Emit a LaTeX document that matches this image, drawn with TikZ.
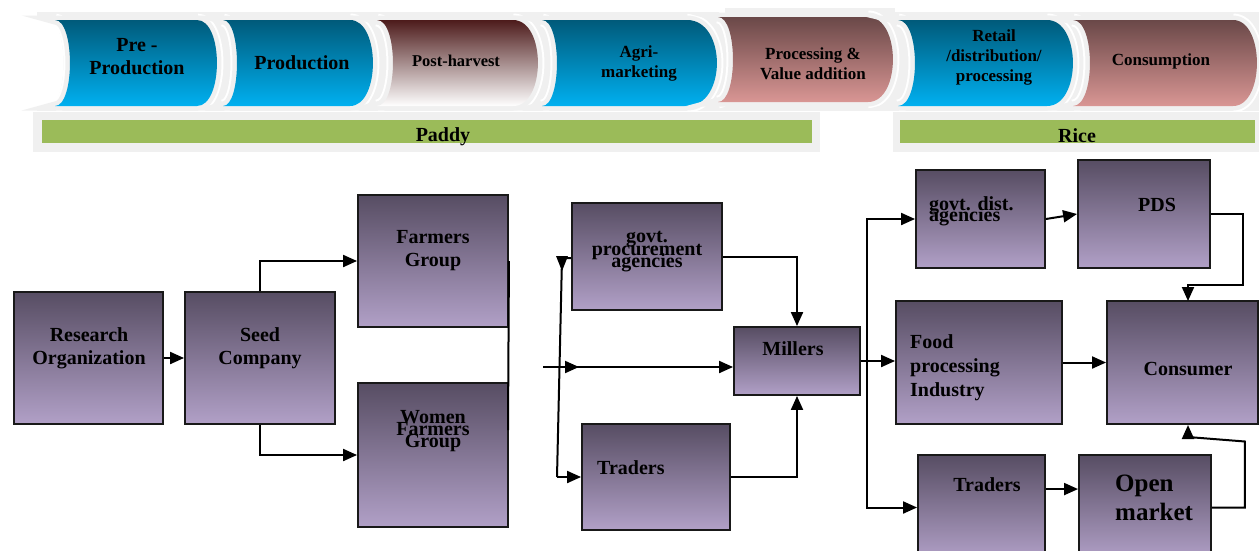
\documentclass[tikz,border=0pt]{standalone}
\usepackage{fontspec}
\setmainfont{Liberation Serif}
\usetikzlibrary{arrows.meta,calc}
\definecolor{boxtop}{HTML}{574D63}
\definecolor{boxbot}{HTML}{B1A0C7}
\definecolor{bluetop}{HTML}{005A7A}
\definecolor{bluebot}{HTML}{00B0F0}
\definecolor{martop}{HTML}{4D1B1B}
\definecolor{pinktop}{HTML}{6A4848}
\definecolor{pinkbot}{HTML}{D99694}
\definecolor{barg}{HTML}{9BBB59}
\definecolor{rim}{HTML}{F0F0F0}
\setlength{\lineskiplimit}{-100pt}
\newcommand{\mychev}[7]{%
 \path[draw=white,line width=13pt] (#3,#5) .. controls ({#3+1.33*#4},#5) and ({#3+1.33*#4},#6) .. (#3,#6);
 \path[draw=white,line width=13pt] (#1,#6) .. controls ({#1+1.33*#2},#6) and ({#1+1.33*#2},#5) .. (#1,#5);
 \path[draw=rim,line width=9pt] (#1,#5) -- (#3,#5) .. controls ({#3+1.33*#4},#5) and ({#3+1.33*#4},#6) .. (#3,#6) -- (#1,#6) .. controls ({#1+1.33*#2},#6) and ({#1+1.33*#2},#5) .. (#1,#5) -- cycle;
 \path[#7] (#1,#5) -- (#3,#5) .. controls ({#3+1.33*#4},#5) and ({#3+1.33*#4},#6) .. (#3,#6) -- (#1,#6) .. controls ({#1+1.33*#2},#6) and ({#1+1.33*#2},#5) .. (#1,#5) -- cycle;}
\tikzset{
 box/.style={draw=black!90, line width=1.9pt, top color=boxtop, bottom color=boxbot, inner sep=0pt},
 txt/.style={font=\bfseries\fontsize{20}{23}\selectfont, align=center, inner sep=0pt},
 btxt/.style={font=\bfseries\fontsize{17}{20}\selectfont, align=center, inner sep=0pt},
 arr/.style={-{Triangle[length=14pt,width=12pt]}, line width=2pt},
 ln/.style={line width=2pt},
 bluec/.style={top color=bluetop, bottom color=bluebot},
 marc/.style={top color=martop, bottom color=white},
 pinkc/.style={top color=pinktop, bottom color=pinkbot}
}
\begin{document}
\begin{tikzpicture}[x=1pt,y=-1pt]
\useasboundingbox (0,0) rectangle (1259,550);
\clip (0,0) rectangle (1259,550);
\fill[white] (0,0) rectangle (1259,550);
% banner background
\fill[rim] (37,12) rectangle (1259,111);
\fill[rim] (725,8) rectangle (895,20);
\fill[white] (30,19) -- (47,19) .. controls (69,19) and (69,107) .. (47,107) -- (30,107) -- cycle;
\mychev{55}{15}{197}{20}{20}{106}{bluec}
\mychev{223}{14}{350}{23}{20}{106}{bluec}
\mychev{377}{16}{513}{25}{20}{106}{marc}
\mychev{542}{15}{687}{30}{20}{106}{bluec}
\mychev{718}{15}{868}{25}{17}{102}{pinkc}
\mychev{898}{17}{1047}{26}{20}{106}{bluec}
\mychev{1073}{17}{1233}{24}{20}{106}{pinkc}
\node[txt, font=\bfseries\fontsize{20}{23}\selectfont] (b1) at (137,57) {Pre -\\Production};
\node[txt, font=\bfseries\fontsize{20}{23}\selectfont] (b2) at (302,63) {Production};
\node[btxt, font=\bfseries\fontsize{16.5}{20}\selectfont] (b3) at (456,61) {Post-harvest};
\node[btxt] (b4) at (639,63) {Agri-\\marketing};
\node[btxt] (b5) at (813,64) {Processing \&\\Value addition};
\node[btxt] (b6) at (994,57) {Retail\\/distribution/\\processing};
\node[btxt] (b7) at (1161,61) {Consumption};
% phase bars
\fill[rim] (33,112) rectangle (820,152);
\fill[rim] (893,112) rectangle (1259,152);
\fill[barg] (42,120) rectangle (812,143);
\fill[barg] (900,120) rectangle (1255,143);
\node[txt, font=\bfseries\fontsize{20}{23}\selectfont] (paddy) at (443,137) {Paddy};
\node[txt, font=\bfseries\fontsize{20}{23}\selectfont] (rice) at (1077,136) {Rice};
% boxes
\node[box, minimum width=149pt, minimum height=132pt] (ro) at (88.5,358) {};
\node[box, minimum width=150pt, minimum height=132pt] (sc) at (260,358) {};
\node[box, minimum width=150pt, minimum height=132pt] (fg) at (433,261) {};
\node[box, minimum width=150pt, minimum height=144pt] (wfg) at (433,455) {};
\node[box, minimum width=150pt, minimum height=107pt] (gpa) at (647,256.5) {};
\node[box, minimum width=148pt, minimum height=106pt] (tr1) at (656,477) {};
\node[box, minimum width=126pt, minimum height=68pt] (mil) at (797,361) {};
\node[box, minimum width=129pt, minimum height=98pt] (gda) at (980.5,219) {};
\node[box, minimum width=132pt, minimum height=108pt] (pds) at (1144,214) {};
\node[box, minimum width=166pt, minimum height=123pt] (fpi) at (979,362.5) {};
\node[box, minimum width=151pt, minimum height=123pt] (con) at (1182.5,362.5) {};
\node[box, minimum width=127pt, minimum height=105pt] (tr2) at (981.5,507.5) {};
\node[box, minimum width=132pt, minimum height=105pt] (om) at (1145,507.5) {};
% texts
\node[txt] (ro-t) at (89,348) {Research\\Organization};
\node[txt] (sc-t) at (260,348) {Seed\\Company};
\node[txt] (fg-t) at (433,251) {Farmers\\Group};
\node[txt, font=\bfseries\fontsize{20}{12}\selectfont] (wfg-t) at (433,431.5) {Women\\Farmers\\Group};
\node[txt, font=\bfseries\fontsize{20}{12.5}\selectfont] (gpa-t) at (647,252) {govt.\\procurement\\agencies};
\node[txt, anchor=west] (tr1-t) at (597,468) {Traders};
\node[txt] (mil-t) at (793,349) {Millers};
\node[txt, align=left, anchor=west, font=\bfseries\fontsize{20}{11}\selectfont] (gda-t) at (929,211) {govt. dist.\\agencies};
\node[txt] (pds-t) at (1157,205) {PDS};
\node[txt, align=left, anchor=west, font=\bfseries\fontsize{20}{24}\selectfont] (fpi-t) at (910,368) {Food\\processing\\Industry};
\node[txt] (con-t) at (1188,369) {Consumer};
\node[txt] (tr2-t) at (987,485) {Traders};
\node[txt, align=left, anchor=west, font=\bfseries\fontsize{25}{29}\selectfont] (om-t) at (1115,498) {Open\\market};
% connectors left
\draw[arr] (ro) -- (sc);
\draw[arr] (sc.north) |- (fg.west);
\draw[arr] (sc.south) |- (wfg.west);
\coordinate (fgd) at (508,430);
\draw[ln] (fg.east) -- (fgd);
% middle
\coordinate (in) at (543,367);
\coordinate (jt) at (562,258);
\coordinate (jb) at (557,477);
\draw[arr] (in) -- (in -| mil.west);
\draw[arr] (in) -- ++(36,0);
\draw[ln] (jb) -- (jt) -- (jt -| gpa.west);
\fill (556,256) -- (568,256) -- (562,271) -- cycle;
\draw[arr] (jb) -- (tr1.west);
\draw[arr] (gpa.east) -| (mil.north);
\draw[arr] (tr1.east) -| (mil.south);
% right
\coordinate (js) at (867,361);
\draw[ln] (mil.east) -- (js);
\draw[arr] (js) -- (js -| fpi.west);
\draw[arr] (js) |- (gda.west);
\draw[arr] (js) |- (tr2.west);
\draw[arr] (gda.east) -- (pds.west);
\coordinate (cn) at (1188,301);
\coordinate (cs) at (1188,425);
\draw[arr] (pds.east) -- ++(32,0) -- ++(0,71) -| (cn);
\draw[arr] (fpi.east) -- (con.west);
\draw[arr] ($(tr2.north east)+(0,35)$) -- ($(om.north west)+(0,35)$);
\draw[arr] (om.east) -- ++(33,0) -- ++(0,-66) -- (1188,437) -- (cs);
\end{tikzpicture}
\end{document}
